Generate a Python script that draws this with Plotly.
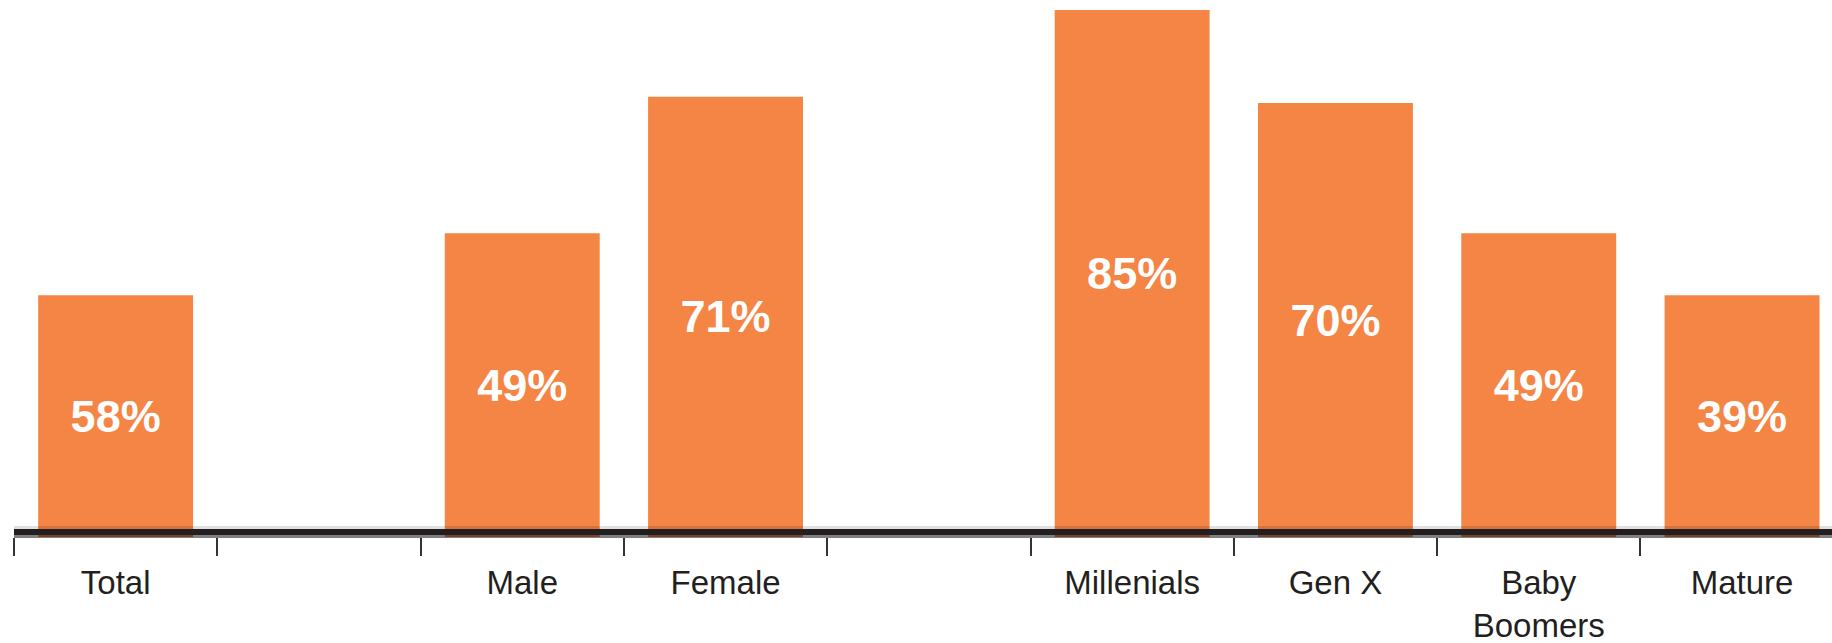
import plotly.graph_objects as go

categories = ["Total", " ", "Male", "Female", "  ", "Millenials", "Gen X", "Baby<br>Boomers", "Mature"]
bar_heights = [39, None, 49, 71, None, 85, 70, 49, 39]
bar_labels = ["58%", "", "49%", "71%", "", "85%", "70%", "49%", "39%"]

W, H = 1832, 643
ML, MB = 14, 106
PLOT_H = H - MB
PX_PER_UNIT = 6.2
Y_MAX = PLOT_H / PX_PER_UNIT
SLOT = 203.3
X_MAX = -0.5 + (W - ML) / SLOT

fig = go.Figure()
fig.add_trace(go.Bar(
    x=categories,
    y=bar_heights,
    text=bar_labels,
    textposition="inside",
    insidetextanchor="middle",
    constraintext="none",
    textangle=0,
    textfont=dict(family="Liberation Sans, Arial, sans-serif", size=45, color="white", weight="bold"),
    marker=dict(color="#F48545", line=dict(width=0)),
    width=0.762,
    hoverinfo="skip",
))


def py(p):
    return (PLOT_H - p) / PLOT_H


shapes = [
    dict(type="rect", xref="paper", yref="paper", x0=0, x1=1, y0=py(529), y1=py(526),
         fillcolor="rgba(0,0,0,0.12)", line=dict(width=0), layer="above"),
    dict(type="rect", xref="paper", yref="paper", x0=0, x1=1, y0=py(535), y1=py(529),
         fillcolor="#231f20", line=dict(width=0), layer="above"),
    dict(type="rect", xref="paper", yref="paper", x0=0, x1=1, y0=py(538), y1=py(535),
         fillcolor="rgba(0,0,0,0.5)", line=dict(width=0), layer="above"),
]

fig.update_layout(
    width=W, height=H,
    margin=dict(l=ML, r=0, t=0, b=MB, pad=0),
    paper_bgcolor="white", plot_bgcolor="white",
    showlegend=False,
    shapes=shapes,
    font=dict(family="Liberation Sans, Arial, sans-serif", color="#231f20"),
    xaxis=dict(
        type="category",
        categoryorder="array", categoryarray=categories,
        range=[-0.5, X_MAX],
        tickson="boundaries",
        ticks="outside", ticklen=18, tickwidth=2, tickcolor="#333333",
        ticklabelstandoff=23,
        tickfont=dict(size=33, color="#231f20", family="Liberation Sans, Arial, sans-serif"),
        showgrid=False, zeroline=False, showline=False,
        tickangle=0,
    ),
    yaxis=dict(
        range=[0, Y_MAX],
        visible=False, showgrid=False, zeroline=False,
    ),
)

fig.write_html(
    "out.html",
    config={"displayModeBar": False, "staticPlot": True},
    post_script="document.body.style.margin='0';document.body.style.overflow='hidden';",
)
